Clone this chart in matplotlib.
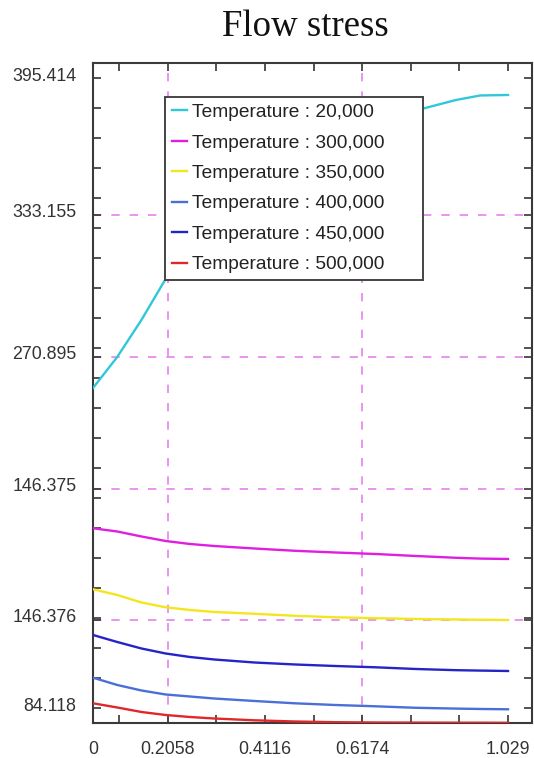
import matplotlib
matplotlib.use('Agg')
import matplotlib.pyplot as plt
import matplotlib.transforms as mtrans
import numpy as np

# strain values (x) shared by all the curves
strain = [0, 0.06, 0.12, 0.18, 0.24, 0.30, 0.40, 0.50, 0.60, 0.70, 0.80, 0.90, 0.96, 1.029]

temps = ['20,000', '300,000', '350,000', '400,000', '450,000', '500,000']
colors = ['#30C8D8', '#E01EE0', '#F2E71E', '#4A6FD6', '#2424C8', '#E0282A']

stress_20 = [242.38, 257.70, 275.98, 296.24, 313.04, 326.38, 343.18, 356.03, 366.41,
             374.31, 379.50, 384.69, 386.92, 387.16]
stress_300 = [173.06, 171.47, 169.00, 166.78, 165.30, 164.31, 163.07, 161.94, 161.10,
              160.36, 159.37, 158.48, 158.08, 157.89]
stress_350 = [142.91, 140.10, 136.39, 134.02, 132.69, 131.70, 130.81, 129.82, 129.08,
              128.63, 128.24, 127.99, 127.84, 127.74]
stress_400 = [99.23, 95.63, 92.91, 90.93, 89.94, 88.95, 87.72, 86.58, 85.74,
              85.10, 84.36, 83.96, 83.77, 83.62]
stress_450 = [120.33, 116.87, 113.66, 111.19, 109.46, 108.23, 106.74, 105.76, 105.01,
              104.37, 103.53, 102.94, 102.74, 102.54]
stress_500 = [86.58, 84.51, 82.28, 80.80, 79.81, 79.07, 78.18, 77.59, 77.24,
              77.09, 77.04, 76.99, 76.99, 76.94]
series = [stress_20, stress_300, stress_350, stress_400, stress_450, stress_500]

# tick labels as printed on the original chart
xtick_labels = ['0', '', '0.2058', '', '0.4116', '', '0.6174', '', '', '1.029']
ylab_pos = [327.87, 257.70, 192.47, 127.74]
ylab_text = ['333.155', '270.895', '146.375', '146.376']

fig = plt.figure(figsize=(5.34, 7.58), dpi=100)
ax = fig.add_axes([0.1742, 0.0462, 0.8221, 0.8707])

xt = [0] + list(np.linspace(0.0645, 1.029, 9))
yreg = list(np.linspace(84.118, 395.414, 22))
yt = yreg + ylab_pos
ylabels = ['' for _ in yreg] + ylab_text
ylabels[0] = '84.118'
ylabels[21] = '395.414'

grid_kw = dict(color='#E680F0', lw=1.2, ls=(0, (5, 6)), zorder=1)
for v in ylab_pos:
    ax.axhline(v, **grid_kw)
ax.axvline(xt[2], **grid_kw)
ax.axvline(xt[6], **grid_kw)

for s, c, t in zip(series, colors, temps):
    ax.plot(strain, s, color=c, lw=1.7, label='Temperature : ' + t, zorder=3)

ax.set_xlim(0, 1.0885)
ax.set_ylim(76.85, 402.97)
ax.set_xticks(xt, xtick_labels)
ax.set_yticks(yt, ylabels)

ax.tick_params(direction='in', length=6, width=1.2, color='#333333',
               top=True, right=True, labelsize=12.8, labelcolor='#333333',
               pad=12)
ax.tick_params(axis='x', pad=13)
for lab in ax.get_xticklabels() + ax.get_yticklabels():
    lab.set_fontfamily('Liberation Sans')
off = mtrans.ScaledTranslation(0, 4 / 100, fig.dpi_scale_trans)
for lab in ax.get_yticklabels():
    lab.set_transform(lab.get_transform() + off)

for sp in ax.spines.values():
    sp.set_color('#3a3a3a')
    sp.set_linewidth(1.5)

leg = ax.legend(loc='upper left', bbox_to_anchor=(0.164, 0.5, 0.5877, 0.4485),
                mode='expand', borderaxespad=0, fancybox=False, framealpha=1,
                edgecolor='#444444', prop={'family': 'Liberation Sans', 'size': 13.8},
                handlelength=0.8, handletextpad=0.25, borderpad=0.35,
                labelspacing=0.68)
leg.get_frame().set_linewidth(1.4)
for t in leg.get_texts():
    t.set_color('#222222')
leg.set_zorder(5)

fig.text(0.571, 0.9525, 'Flow stress', ha='center', va='baseline',
         family='Liberation Serif', fontsize=26.5, color='#111111')

fig.savefig('out.png', dpi=100)
